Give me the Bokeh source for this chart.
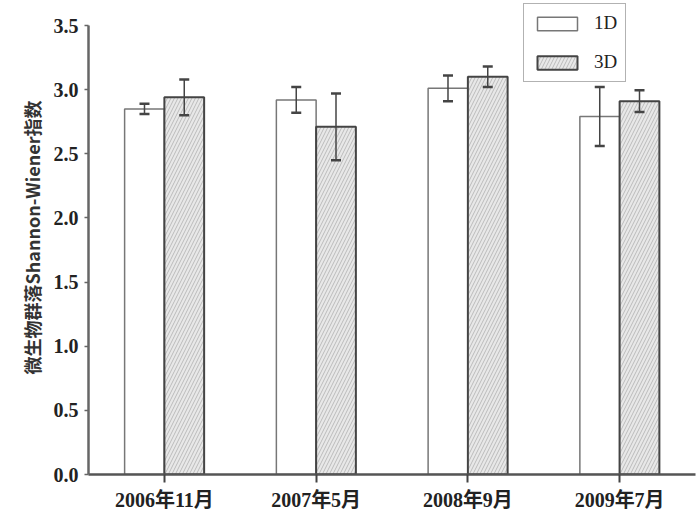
from bokeh.plotting import figure
from bokeh.models import (ColumnDataSource, Whisker, TeeHead, Legend, LegendItem, FactorRange,
                          Range1d, FixedTicker, NumeralTickFormatter)
from bokeh.transform import dodge
from bokeh.embed import file_html
from bokeh.resources import INLINE

categories = ["2006年11月", "2007年5月", "2008年9月", "2009年7月"]
d1 = [2.85, 2.92, 3.01, 2.79]
d1_err = [0.04, 0.10, 0.10, 0.23]
d3 = [2.94, 2.71, 3.10, 2.91]
d3_err = [0.14, 0.26, 0.08, 0.085]
y_ticks = [0.0, 0.5, 1.0, 1.5, 2.0, 2.5, 3.0, 3.5]

src = ColumnDataSource(dict(
    cat=categories, d1=d1, d3=d3,
    d1_lo=[v - e for v, e in zip(d1, d1_err)], d1_hi=[v + e for v, e in zip(d1, d1_err)],
    d3_lo=[v - e for v, e in zip(d3, d3_err)], d3_hi=[v + e for v, e in zip(d3, d3_err)],
))

p = figure(width=700, height=522, x_range=FactorRange(*categories, range_padding=0),
           y_range=Range1d(0, 3.695), output_backend="svg", toolbar_location=None,
           min_border_left=88, min_border_right=5, min_border_top=0, min_border_bottom=48)
p.outline_line_color = None
p.grid.visible = False
p.background_fill_color = "white"
p.border_fill_color = "white"

serif = "'Liberation Serif', 'Noto Sans CJK SC'"
bw = 0.262
r1 = p.vbar(x=dodge("cat", -bw / 2, range=p.x_range), top="d1", width=bw, source=src,
            fill_color="white", line_color="#777777", line_width=1.5)
r3 = p.vbar(x=dodge("cat", bw / 2, range=p.x_range), top="d3", width=bw, source=src,
            fill_color="#e8e8e8", line_color="#444444", line_width=2,
            hatch_pattern="right_diagonal_line", hatch_color="#bbbbbb", hatch_scale=7, hatch_weight=1)

for base, lo, hi in [(dodge("cat", -bw / 2, range=p.x_range), "d1_lo", "d1_hi"),
                     (dodge("cat", bw / 2, range=p.x_range), "d3_lo", "d3_hi")]:
    w = Whisker(base=base, lower=lo, upper=hi, source=src, line_color="#444444", line_width=1.5,
                upper_head=TeeHead(size=10, line_color="#444444", line_width=2.5),
                lower_head=TeeHead(size=10, line_color="#444444", line_width=2.5),
                level="annotation")
    p.add_layout(w)

ya = p.yaxis[0]
ya.ticker = FixedTicker(ticks=y_ticks)
ya.formatter = NumeralTickFormatter(format="0.0")
ya.bounds = (0, 3.5)
ya.axis_line_color = "#666666"
ya.axis_line_width = 2.5
ya.major_tick_line_color = "#666666"
ya.major_tick_line_width = 1.5
ya.major_tick_out = 4
ya.major_tick_in = 0
ya.minor_tick_line_color = None
ya.major_label_text_font = serif
ya.major_label_text_font_size = "20px"
ya.major_label_text_font_style = "bold"
ya.major_label_text_color = "#222222"
ya.major_label_standoff = 6
ya.axis_label = "微生物群落Shannon-Wiener指数"
ya.axis_label_text_font = "'Noto Sans CJK SC'"
ya.axis_label_text_font_size = "18px"
ya.axis_label_text_font_style = "bold"
ya.axis_label_text_color = "#333333"
ya.axis_label_standoff = 6

xa = p.xaxis[0]
xa.axis_line_color = "#555555"
xa.axis_line_width = 2.5
xa.major_tick_line_color = "#444444"
xa.major_tick_line_width = 2
xa.major_tick_out = 8
xa.major_tick_in = 0
xa.major_label_text_font = serif
xa.major_label_text_font_size = "20px"
xa.major_label_text_font_style = "bold"
xa.major_label_text_color = "#222222"
xa.major_label_standoff = 6

legend = Legend(items=[LegendItem(label="1D", renderers=[r1]), LegendItem(label="3D", renderers=[r3])],
                location=(435, 392), orientation="vertical",
                glyph_width=50, glyph_height=17, label_height=17, label_standoff=12,
                spacing=17, padding=8, margin=0, label_text_baseline="middle",
                label_text_font=serif, label_text_font_size="19px", label_text_color="#222222",
                border_line_color="#666666", border_line_width=1.5, background_fill_color="white",
                background_fill_alpha=1)
p.add_layout(legend)

open("out.html", "w").write(file_html(p, INLINE))
